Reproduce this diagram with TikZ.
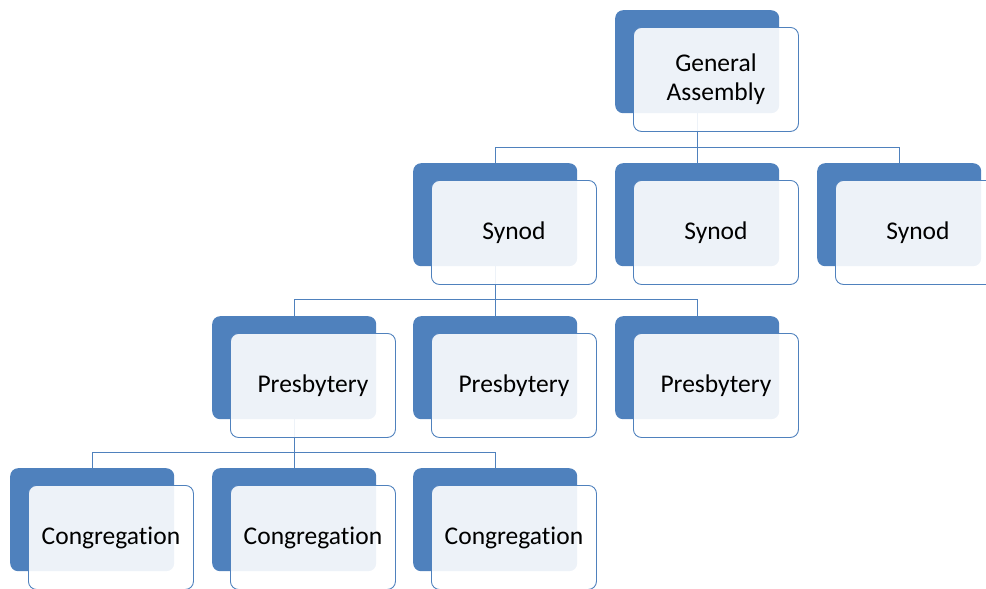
\documentclass[tikz,border=0pt]{standalone}
\usepackage{fontspec}
\setmainfont{Carlito}[Ligatures=NoCommon]
\definecolor{accent}{HTML}{4F81BD}
\tikzset{
  backbox/.style={rectangle, rounded corners=8pt, fill=accent, draw=none,
    minimum width=164pt, minimum height=103pt, inner sep=0pt, anchor=north west},
  frontbox/.style={rectangle, rounded corners=8pt, fill=white, fill opacity=0.9, text opacity=1,
    draw=accent, line width=0.9pt, minimum width=165pt, minimum height=104pt,
    inner sep=0pt, anchor=north west, align=center,
    font=\fontsize{25.5}{28.5}\selectfont},
  conn/.style={draw=accent, line width=0.9pt}
}
\newcommand{\backunit}[3]{\node[backbox] (#1-b) at (#2,#3) {};}
\newcommand{\frontunit}[4]{\node[frontbox] (#1-f) at (#2+18,#3+17) {#4};}
\begin{document}
\begin{tikzpicture}[x=1pt,y=-1pt]
\useasboundingbox (0,0) rectangle (986,589);
\clip (0,0) rectangle (986,589);
% back boxes
\backunit{ga}{615}{10}
\backunit{s1}{413}{163}
\backunit{s2}{615}{163}
\backunit{s3}{817}{163}
\backunit{p1}{212}{316}
\backunit{p2}{413}{316}
\backunit{p3}{615}{316}
\backunit{c1}{10}{468}
\backunit{c2}{212}{468}
\backunit{c3}{413}{468}
% bus levels
\coordinate (bus1) at (0,147);
\coordinate (bus2) at (0,299.5);
\coordinate (bus3) at (0,452);
% connectors
\draw[conn] (ga-b.south) -- (ga-b.south |- bus1) -| (s1-b.north);
\draw[conn] (ga-b.south |- bus1) -- (s2-b.north);
\draw[conn] (ga-b.south |- bus1) -| (s3-b.north);
\draw[conn] (s1-b.south) -- (s1-b.south |- bus2) -| (p1-b.north);
\draw[conn] (s1-b.south |- bus2) -- (p2-b.north);
\draw[conn] (s1-b.south |- bus2) -| (p3-b.north);
\draw[conn] (p1-b.south) -- (p1-b.south |- bus3) -| (c1-b.north);
\draw[conn] (p1-b.south |- bus3) -- (c2-b.north);
\draw[conn] (p1-b.south |- bus3) -| (c3-b.north);
% front boxes
\frontunit{ga}{615}{10}{General\\Assembly}
\frontunit{s1}{413}{163}{Synod}
\frontunit{s2}{615}{163}{Synod}
\frontunit{s3}{817}{163}{Synod}
\frontunit{p1}{212}{316}{Presbytery}
\frontunit{p2}{413}{316}{Presbytery}
\frontunit{p3}{615}{316}{Presbytery}
\frontunit{c1}{10}{468}{Congregation}
\frontunit{c2}{212}{468}{Congregation}
\frontunit{c3}{413}{468}{Congregation}
\end{tikzpicture}
\end{document}
